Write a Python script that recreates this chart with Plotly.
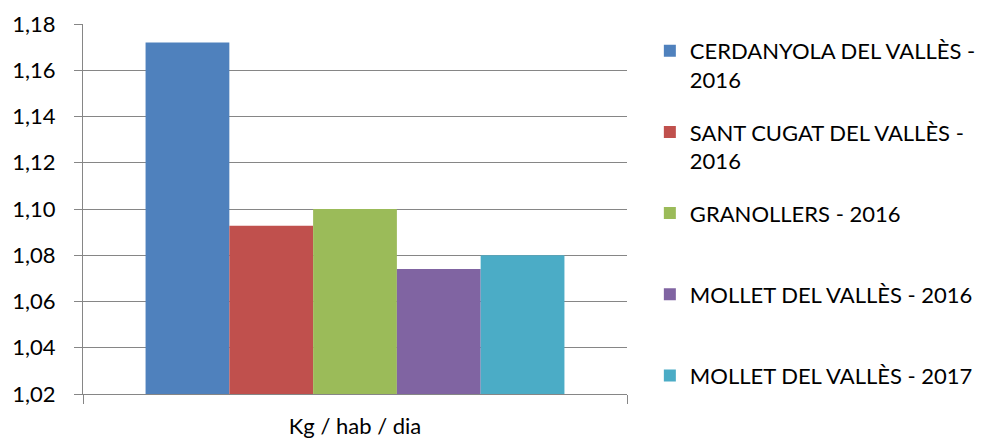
import plotly.graph_objects as go

# Data
category = ["Kg / hab / dia"]
series_names = [
    "CERDANYOLA DEL VALLÈS -<br>2016",
    "SANT CUGAT DEL VALLÈS -<br>2016",
    "GRANOLLERS - 2016<br>\u00a0",
    "MOLLET DEL VALLÈS - 2016<br>\u00a0",
    "MOLLET DEL VALLÈS - 2017",
]
series_values = [1.172, 1.0928, 1.100, 1.074, 1.080]
series_colors = ["#4F81BD", "#C0504D", "#9BBB59", "#8064A2", "#4BACC6"]

FONT = "Lato"
GRID = "#868686"

fig = go.Figure()
for i, (name, val, col) in enumerate(zip(series_names, series_values, series_colors)):
    fig.add_trace(go.Bar(
        x=category, y=[val], name=name, marker=dict(color=col, line=dict(width=0)),
        legendgroup="g%d" % i,
    ))

# page body has an 8px margin, so the figure is a bit smaller than the window
fig.update_layout(
    width=976, height=433,
    margin=dict(l=75, r=357, t=16, b=47, autoexpand=False),
    barmode="group", bargap=0.23, bargroupgap=0,
    plot_bgcolor="white", paper_bgcolor="white",
    separators=",.",
    font=dict(family=FONT, size=22, color="#000000"),
    legend=dict(
        x=1.042, xanchor="left", y=0.984, yanchor="top",
        valign="top", tracegroupgap=21,
        font=dict(family=FONT, size=22, color="#000000"),
        bgcolor="rgba(0,0,0,0)",
    ),
    showlegend=True,
)

fig.update_yaxes(
    range=[1.02, 1.18], dtick=0.02, tick0=1.02, tickformat=".2f",
    showgrid=True, gridcolor=GRID, gridwidth=1,
    showline=True, linecolor=GRID, linewidth=1,
    ticks="outside", ticklen=8, tickcolor=GRID, ticklabelstandoff=14,
    zeroline=False, automargin=False,
)
fig.update_xaxes(
    showline=True, linecolor=GRID, linewidth=1,
    ticks="outside", tickson="boundaries", ticklen=9, tickcolor=GRID,
    ticklabelstandoff=13,
    showgrid=False, automargin=False,
)

fig.write_html("out.html")
